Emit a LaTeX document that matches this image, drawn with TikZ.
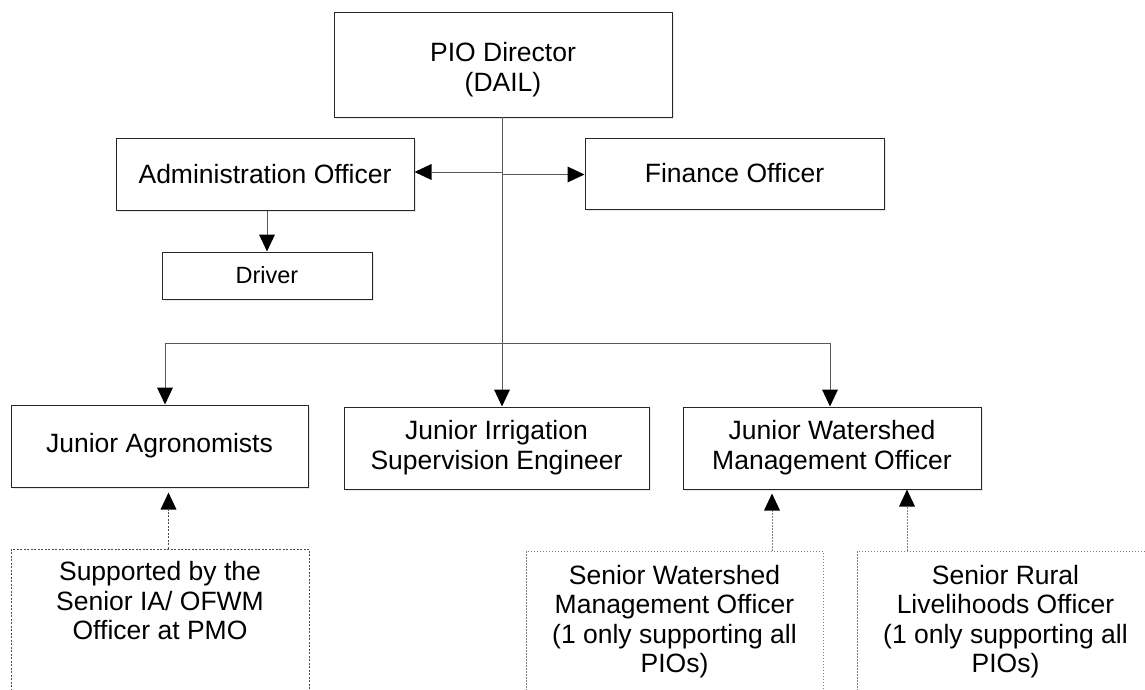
\documentclass[tikz,border=0pt]{standalone}
\usepackage{fontspec}
\setmainfont{Liberation Sans}
\usetikzlibrary{arrows.meta,shadows}

\begin{document}
\begin{tikzpicture}[x=1pt,y=-1pt,
  box/.style={draw=black!85, line width=1pt, fill=white, align=center,
    inner sep=0pt, font=\fontsize{26.5}{30}\selectfont,
    drop shadow={shadow xshift=2pt,shadow yshift=-2pt,opacity=0.18}},
  supbox/.style={draw=black!70, line width=0.8pt,
    dash pattern=on 2pt off 1.5pt, inner sep=0pt},
  seniorbox/.style={draw=black!50, line width=0.8pt,
    dash pattern=on 1.5pt off 1.5pt, inner sep=0pt},
  boxtext/.style={align=center, inner sep=0pt, font=\fontsize{26.5}{29.5}\selectfont},
  link/.style={draw=black!65, line width=0.9pt},
  tip/.style={-{Triangle[length=17pt,width=16pt,color=black,fill=black,line width=0pt]}},
  arr/.style={link, tip},
  suparr/.style={draw=black!70, line width=0.8pt, dash pattern=on 2pt off 1.5pt, tip},
  seniorarr/.style={draw=black!50, line width=0.8pt, dash pattern=on 1.5pt off 1.5pt, tip}
]
\clip (0,0) rectangle (1145,689);

% management tier
\node[box, minimum width=338, minimum height=105, text height=59pt] (pio) at (503,64.5) {PIO Director\\(DAIL)};
\node[box, minimum width=298, minimum height=72] (admin) at (265,174) {Administration Officer};
\node[box, minimum width=299, minimum height=71] (fin) at (734.5,173.5) {Finance Officer};
\node[box, minimum width=210, minimum height=47, font=\fontsize{23.5}{28}\selectfont] (driver) at (267,275.5) {Driver};

% junior staff
\node[box, minimum width=297, minimum height=82] (agro) at (159.5,446) {Junior Agronomists};
\node[box, minimum width=305, minimum height=82] (irr) at (496.5,448) {Junior Irrigation\\Supervision Engineer};
\node[box, minimum width=298, minimum height=82] (ws) at (832,448) {Junior Watershed\\Management Officer};

% supporting senior staff
\node[supbox, minimum width=298, minimum height=171] (sup) at (160,634.5) {};
\node[boxtext, anchor=center] (suptext) at (160,601) {Supported by the\\Senior IA/ OFWM\\Officer at PMO};
\node[seniorbox, minimum width=297, minimum height=171] (sws) at (674.5,636.5) {};
\node[boxtext, anchor=center] (swstext) at (674.5,621.5) {Senior Watershed\\Management Officer\\(1 only supporting all\\PIOs)};
\node[seniorbox, minimum width=297, minimum height=171] (srl) at (1005.5,636.5) {};
\node[boxtext, anchor=center] (srltext) at (1005.5,621.5) {Senior Rural\\Livelihoods Officer\\(1 only supporting all\\PIOs)};

% reporting lines
\coordinate (barL) at (165,343);
\coordinate (barR) at (830,343);
\coordinate (trunk) at (502,117);
\draw[arr] (trunk) -- (trunk |- irr.north);
\draw[arr] (trunk |- 0,172) -- (admin.east |- 0,172);
\draw[arr] (trunk |- 0,174.5) -- (fin.west |- 0,174.5);
\draw[arr] (admin.south -| driver.north) -- (driver.north);
\draw[link] (barL) -- (barR);
\draw[arr] (barL) -- (barL |- agro.north);
\draw[arr] (barR) -- (barR |- ws.north);

% support lines
\coordinate (agA) at ([xshift=9pt,yshift=-5pt]agro.south);
\coordinate (wsA) at ([xshift=-60pt,yshift=-4pt]ws.south);
\coordinate (wsB) at ([xshift=75pt]ws.south);
\draw[suparr] (sup.north -| agA) -- (agA);
\draw[seniorarr] (sws.north -| wsA) -- (wsA);
\draw[seniorarr] (srl.north -| wsB) -- (wsB);
\end{tikzpicture}
\end{document}
